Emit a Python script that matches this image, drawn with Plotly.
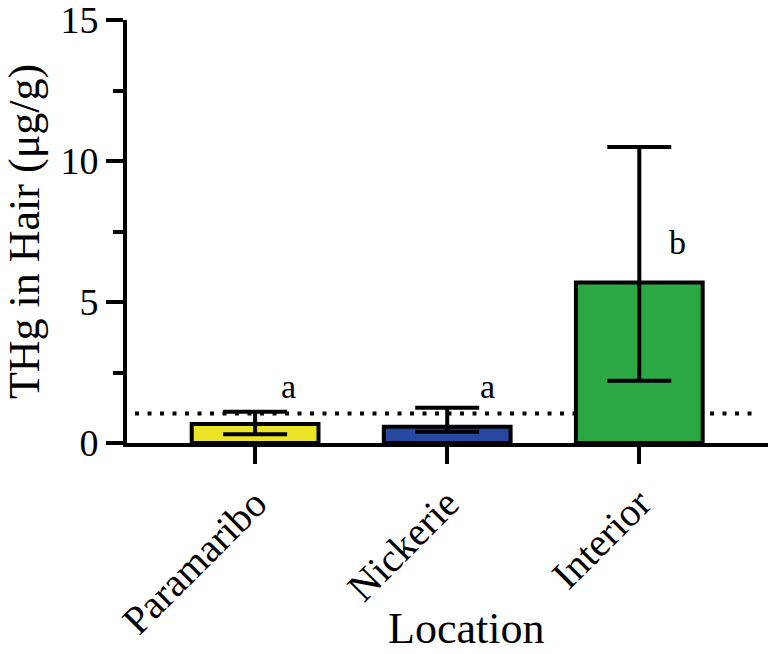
import plotly.graph_objects as go

# data
locations = ["Paramaribo", "Nickerie", "Interior"]
thg_mean = [0.67, 0.58, 5.69]
thg_upper = [1.11, 1.25, 10.5]
thg_lower = [0.31, 0.40, 2.21]
group_letters = ["a", "a", "b"]
reference_level = 1.05

bar_colors = ["#ECE426", "#2648A0", "#2BA843"]
FONT = "Liberation Serif"

err_plus = [u - m for u, m in zip(thg_upper, thg_mean)]
err_minus = [m - l for m, l in zip(thg_mean, thg_lower)]

fig = go.Figure(go.Bar(
    x=locations,
    y=thg_mean,
    width=0.66,
    marker=dict(color=bar_colors, line=dict(color="black", width=4)),
    error_y=dict(type="data", symmetric=False, array=err_plus,
                 arrayminus=err_minus, color="black", thickness=4, width=32),
))

# dotted reference line
fig.add_shape(type="line", xref="paper", yref="y", x0=0.0125, x1=0.977,
              y0=reference_level, y1=reference_level,
              line=dict(color="black", width=4, dash="4px,8.5px"), layer="below")

# significance letters
label_y = [2.0, 2.0, 7.1]
label_shift = [33, 40, 38]
for loc, letter, ly, dx in zip(locations, group_letters, label_y, label_shift):
    fig.add_annotation(x=loc, y=ly, text=letter, showarrow=False, xshift=dx,
                       font=dict(family=FONT, size=34, color="black"))

# x title as an annotation: it sits a little right of the plot centre
fig.add_annotation(text="Location", xref="paper", yref="paper", x=0.529, y=0,
                   yanchor="middle", yshift=-185, showarrow=False, borderpad=0,
                   font=dict(family=FONT, size=44, color="black"))

fig.update_layout(
    width=774, height=654,
    margin=dict(l=127, r=6, t=20, b=211),
    plot_bgcolor="white", paper_bgcolor="white",
    showlegend=False,
    font=dict(family=FONT, color="black"),
)
fig.update_xaxes(
    range=[-0.667, 2.67], automargin=False,
    showline=True, linecolor="black", linewidth=4,
    ticks="outside", ticklen=17, tickwidth=4, tickcolor="black",
    tickangle=-45, tickfont=dict(size=40), ticklabeloverflow="allow",
    showgrid=False, zeroline=False,
)
fig.update_yaxes(
    range=[0, 15], tickvals=[0, 5, 10, 15], automargin=False,
    showline=True, linecolor="black", linewidth=4,
    ticks="outside", ticklen=17, tickwidth=4, tickcolor="black",
    tickfont=dict(size=38), ticklabeloverflow="allow",
    minor=dict(dtick=2.5, ticks="outside", ticklen=10, tickwidth=4, tickcolor="black"),
    title=dict(text="THg in Hair (μg/g)", font=dict(size=44), standoff=16),
    showgrid=False, zeroline=False,
)

# drop the browser's default 8px body margin so the figure fills the window
fig.write_html("out.html", config={"displayModeBar": False},
               post_script="document.body.style.margin = '0';")
